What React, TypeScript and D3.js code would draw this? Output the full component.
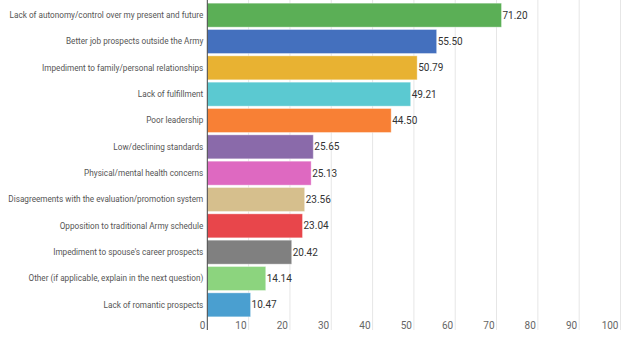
import React from "react";
import * as d3 from "d3";

const categories = [
  "Lack of autonomy/control over my present and future",
  "Better job prospects outside the Army",
  "Impediment to family/personal relationships",
  "Lack of fulfillment",
  "Poor leadership",
  "Low/declining standards",
  "Physical/mental health concerns",
  "Disagreements with the evaluation/promotion system",
  "Opposition to traditional Army schedule",
  "Impediment to spouse's career prospects",
  "Other (if applicable, explain in the next question)",
  "Lack of romantic prospects",
];
const values = [71.2, 55.5, 50.79, 49.21, 44.5, 25.65, 25.13, 23.56, 23.04, 20.42, 14.14, 10.47];
const colors = [
  "#5BAF56", "#4470BE", "#E8B232", "#5BC9D1", "#F88035", "#8A6AAA",
  "#DE69C1", "#D6BF8D", "#E8464B", "#808080", "#8CD47E", "#4A9FD0",
];
const ticks = [0, 10, 20, 30, 40, 50, 60, 70, 80, 90, 100];

export default function App() {
  const W = 621, H = 338;
  const x = d3.scaleLinear().domain([0, 100]).range([207.3, 620.5]);
  const y = d3.scaleBand<string>().domain(categories).range([2, 318]).paddingInner(0.09).paddingOuter(0.045);
  const font = "Roboto, 'Open Sans', sans-serif";
  return (
    <svg width={W} height={H} style={{ position: "absolute", left: 0, top: 0, background: "#fff" }}>
      {ticks.map((t) => (
        <g key={t}>
          {t > 0 && <line x1={x(t)} x2={x(t)} y1={0} y2={330} stroke="#e6e6e6" strokeWidth={1} />}
          <text x={x(t) - 2} y={328.5} textAnchor="end" fontSize={10} fill="#666" fontFamily={font}>{t}</text>
        </g>
      ))}
      {categories.map((c, i) => (
        <g key={c}>
          <rect x={x(0)} y={y(c)!} width={x(values[i]) - x(0)} height={y.bandwidth()} fill={colors[i]} stroke="rgba(255,255,255,0.35)" strokeWidth={1} />
          <text x={x(0) - 4} y={y(c)! + y.bandwidth() / 2} dy="0.35em" textAnchor="end" fontSize={8.2} fill="#555" fontFamily={font}>{c}</text>
          <text x={x(values[i]) + 1} y={y(c)! + y.bandwidth() / 2} dy="0.35em" textAnchor="start" fontSize={10} fill="#333" fontFamily={font}>{values[i].toFixed(2)}</text>
        </g>
      ))}
      <line x1={x(0)} x2={x(0)} y1={0} y2={330} stroke="#444" strokeWidth={1} />
    </svg>
  );
}
